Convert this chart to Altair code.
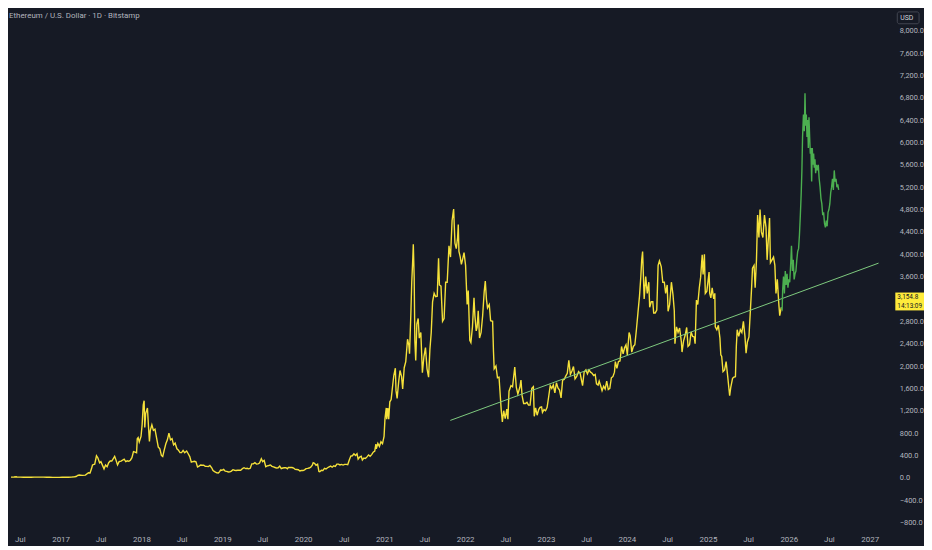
import altair as alt
import pandas as pd

TITLE = "Ethereum / U.S. Dollar · 1D · Bitstamp"
CURRENCY = "USD"
LAST_PRICE = 3154.8
LAST_TIME = "14:13:09"

# Historical daily close (yellow)
history = [
    ("2016-05-22", 13), ("2016-06-05", 14), ("2016-06-15", 19), ("2016-06-19", 12), ("2016-07-03", 12),
    ("2016-07-17", 11), ("2016-07-24", 13), ("2016-08-07", 11), ("2016-08-21", 11), ("2016-09-04", 12),
    ("2016-09-18", 13), ("2016-10-02", 13), ("2016-10-16", 12), ("2016-10-30", 11), ("2016-11-13", 10),
    ("2016-11-27", 8), ("2016-12-11", 8), ("2016-12-25", 7.5),
    ("2017-01-08", 10), ("2017-01-22", 10.7), ("2017-02-05", 11.3), ("2017-02-19", 12.8), ("2017-03-05", 19),
    ("2017-03-12", 24), ("2017-03-19", 42), ("2017-03-26", 50), ("2017-04-09", 43), ("2017-04-23", 48),
    ("2017-05-07", 90), ("2017-05-14", 88), ("2017-05-21", 170), ("2017-05-25", 230), ("2017-06-04", 245),
    ("2017-06-12", 395), ("2017-06-18", 360), ("2017-06-26", 270), ("2017-07-02", 290), ("2017-07-16", 160),
    ("2017-07-23", 230), ("2017-07-30", 200), ("2017-08-06", 270), ("2017-08-13", 300), ("2017-08-20", 300),
    ("2017-08-27", 345), ("2017-09-02", 385), ("2017-09-07", 330), ("2017-09-15", 230), ("2017-09-22", 290),
    ("2017-10-01", 300), ("2017-10-15", 335), ("2017-10-22", 290), ("2017-10-29", 305), ("2017-11-05", 295),
    ("2017-11-12", 315), ("2017-11-19", 360), ("2017-11-26", 470), ("2017-12-03", 460), ("2017-12-10", 450),
    ("2017-12-13", 700), ("2017-12-17", 720), ("2017-12-22", 640), ("2017-12-30", 740),
    ("2018-01-04", 950), ("2018-01-09", 1300), ("2018-01-13", 1380), ("2018-01-16", 900), ("2018-01-20", 1150),
    ("2018-01-28", 1250), ("2018-02-02", 900), ("2018-02-06", 650), ("2018-02-10", 850), ("2018-02-17", 950),
    ("2018-02-24", 850), ("2018-03-03", 870), ("2018-03-10", 720), ("2018-03-18", 550), ("2018-03-25", 520),
    ("2018-04-01", 400), ("2018-04-07", 380), ("2018-04-14", 500), ("2018-04-21", 610), ("2018-04-28", 680),
    ("2018-05-05", 800), ("2018-05-12", 680), ("2018-05-19", 700), ("2018-05-26", 590), ("2018-06-02", 620),
    ("2018-06-10", 520), ("2018-06-16", 500), ("2018-06-24", 450), ("2018-07-01", 450), ("2018-07-08", 490),
    ("2018-07-15", 450), ("2018-07-24", 480), ("2018-07-31", 430), ("2018-08-07", 380), ("2018-08-14", 280),
    ("2018-08-21", 290), ("2018-08-28", 295), ("2018-09-04", 285), ("2018-09-11", 195), ("2018-09-18", 210),
    ("2018-09-25", 230), ("2018-10-02", 225), ("2018-10-09", 225), ("2018-10-16", 205), ("2018-10-23", 205),
    ("2018-10-30", 200), ("2018-11-06", 220), ("2018-11-14", 180), ("2018-11-20", 130), ("2018-11-27", 110),
    ("2018-12-07", 90), ("2018-12-14", 85), ("2018-12-20", 110), ("2018-12-24", 140), ("2018-12-30", 135),
    ("2019-01-07", 150), ("2019-01-14", 120), ("2019-01-21", 115), ("2019-01-28", 105), ("2019-02-04", 107),
    ("2019-02-11", 120), ("2019-02-18", 145), ("2019-02-25", 135), ("2019-03-04", 130), ("2019-03-11", 135),
    ("2019-03-18", 138), ("2019-03-25", 135), ("2019-04-02", 165), ("2019-04-09", 180), ("2019-04-16", 165),
    ("2019-04-23", 170), ("2019-04-30", 160), ("2019-05-07", 170), ("2019-05-14", 250), ("2019-05-21", 250),
    ("2019-05-28", 270), ("2019-06-04", 245), ("2019-06-11", 250), ("2019-06-18", 265), ("2019-06-26", 340),
    ("2019-07-02", 290), ("2019-07-09", 310), ("2019-07-16", 200), ("2019-07-23", 215), ("2019-07-30", 220),
    ("2019-08-06", 230), ("2019-08-13", 205), ("2019-08-20", 195), ("2019-08-27", 185), ("2019-09-03", 175),
    ("2019-09-10", 180), ("2019-09-17", 210), ("2019-09-24", 165), ("2019-10-01", 175), ("2019-10-08", 180),
    ("2019-10-15", 180), ("2019-10-22", 160), ("2019-10-26", 185), ("2019-11-05", 185), ("2019-11-12", 185),
    ("2019-11-19", 175), ("2019-11-26", 150), ("2019-12-03", 148), ("2019-12-10", 145), ("2019-12-17", 122),
    ("2019-12-24", 130), ("2019-12-31", 130),
    ("2020-01-07", 143), ("2020-01-14", 165), ("2020-01-21", 168), ("2020-01-28", 175), ("2020-02-04", 190),
    ("2020-02-11", 225), ("2020-02-15", 270), ("2020-02-21", 258), ("2020-02-28", 225), ("2020-03-06", 245),
    ("2020-03-12", 115), ("2020-03-16", 110), ("2020-03-23", 135), ("2020-03-30", 130), ("2020-04-06", 170),
    ("2020-04-13", 158), ("2020-04-20", 180), ("2020-04-27", 195), ("2020-05-04", 210), ("2020-05-11", 190),
    ("2020-05-18", 215), ("2020-05-25", 205), ("2020-06-01", 245), ("2020-06-08", 245), ("2020-06-15", 230),
    ("2020-06-22", 240), ("2020-06-29", 228), ("2020-07-06", 240), ("2020-07-13", 240), ("2020-07-20", 235),
    ("2020-07-27", 320), ("2020-08-03", 390), ("2020-08-10", 395), ("2020-08-17", 430), ("2020-08-24", 400),
    ("2020-08-31", 430), ("2020-09-05", 335), ("2020-09-12", 370), ("2020-09-19", 385), ("2020-09-24", 320),
    ("2020-10-01", 355), ("2020-10-08", 345), ("2020-10-15", 375), ("2020-10-22", 410), ("2020-10-29", 385),
    ("2020-11-05", 415), ("2020-11-12", 460), ("2020-11-19", 480), ("2020-11-24", 605), ("2020-11-26", 520),
    ("2020-12-03", 615), ("2020-12-10", 560), ("2020-12-17", 645), ("2020-12-24", 610), ("2020-12-31", 740),
    ("2021-01-04", 1050), ("2021-01-10", 1250), ("2021-01-12", 1050), ("2021-01-17", 1250), ("2021-01-21", 1050),
    ("2021-01-26", 1360), ("2021-02-01", 1400), ("2021-02-07", 1620), ("2021-02-13", 1830), ("2021-02-20", 1960),
    ("2021-02-23", 1560), ("2021-02-28", 1420), ("2021-03-07", 1720), ("2021-03-13", 1920), ("2021-03-20", 1810),
    ("2021-03-25", 1590), ("2021-04-01", 1970), ("2021-04-08", 2080), ("2021-04-16", 2480), ("2021-04-22", 2370),
    ("2021-04-25", 2220), ("2021-05-01", 2940), ("2021-05-05", 3500), ("2021-05-10", 3950), ("2021-05-12", 4180),
    ("2021-05-16", 3580), ("2021-05-19", 2450), ("2021-05-23", 2100), ("2021-05-28", 2750), ("2021-06-03", 2850),
    ("2021-06-08", 2500), ("2021-06-15", 2600), ("2021-06-22", 1880), ("2021-06-29", 2170), ("2021-07-06", 2330),
    ("2021-07-13", 1950), ("2021-07-20", 1800), ("2021-07-26", 2300), ("2021-08-01", 2600), ("2021-08-07", 3150),
    ("2021-08-14", 3300), ("2021-08-21", 3240), ("2021-08-28", 3250), ("2021-09-03", 3930), ("2021-09-07", 3450),
    ("2021-09-14", 3430), ("2021-09-21", 2800), ("2021-09-28", 2850), ("2021-10-05", 3500), ("2021-10-12", 3500),
    ("2021-10-20", 4150), ("2021-10-27", 3950), ("2021-11-03", 4600), ("2021-11-10", 4810), ("2021-11-16", 4200),
    ("2021-11-22", 4100), ("2021-11-28", 4300), ("2021-12-01", 4530), ("2021-12-04", 4050), ("2021-12-10", 3950),
    ("2021-12-15", 3820), ("2021-12-20", 3900), ("2021-12-27", 4030),
    ("2022-01-03", 3800), ("2022-01-10", 3100), ("2022-01-15", 3350), ("2022-01-22", 2460), ("2022-01-27", 2420),
    ("2022-02-03", 2700), ("2022-02-10", 3220), ("2022-02-14", 2900), ("2022-02-20", 2630), ("2022-02-24", 2690),
    ("2022-03-01", 2990), ("2022-03-07", 2500), ("2022-03-14", 2600), ("2022-03-21", 2900), ("2022-03-28", 3330),
    ("2022-04-02", 3520), ("2022-04-07", 3200), ("2022-04-12", 3040), ("2022-04-20", 3100), ("2022-04-26", 2810),
    ("2022-05-05", 2800), ("2022-05-09", 2250), ("2022-05-12", 1950), ("2022-05-20", 2000), ("2022-05-27", 1790),
    ("2022-06-03", 1800), ("2022-06-13", 1210), ("2022-06-18", 1000), ("2022-06-24", 1200), ("2022-07-01", 1060),
    ("2022-07-08", 1230), ("2022-07-13", 1050), ("2022-07-18", 1550), ("2022-07-27", 1650), ("2022-08-03", 1630),
    ("2022-08-13", 1980), ("2022-08-20", 1620), ("2022-08-27", 1500), ("2022-09-05", 1620), ("2022-09-10", 1750),
    ("2022-09-15", 1470), ("2022-09-22", 1330), ("2022-09-30", 1330), ("2022-10-07", 1350), ("2022-10-14", 1300),
    ("2022-10-21", 1300), ("2022-10-29", 1600), ("2022-11-05", 1630), ("2022-11-09", 1100), ("2022-11-15", 1250),
    ("2022-11-22", 1120), ("2022-11-29", 1220), ("2022-12-05", 1260), ("2022-12-12", 1270), ("2022-12-16", 1170),
    ("2022-12-23", 1220), ("2022-12-30", 1200),
    ("2023-01-06", 1260), ("2023-01-13", 1450), ("2023-01-20", 1650), ("2023-01-27", 1600), ("2023-02-03", 1660),
    ("2023-02-10", 1520), ("2023-02-17", 1700), ("2023-02-24", 1610), ("2023-03-03", 1570), ("2023-03-10", 1430),
    ("2023-03-17", 1750), ("2023-03-24", 1760), ("2023-03-31", 1820), ("2023-04-07", 1870), ("2023-04-14", 2100),
    ("2023-04-21", 1850), ("2023-04-28", 1910), ("2023-05-05", 1990), ("2023-05-12", 1770), ("2023-05-19", 1810),
    ("2023-05-28", 1900), ("2023-06-04", 1870), ("2023-06-10", 1750), ("2023-06-15", 1650), ("2023-06-22", 1890),
    ("2023-06-30", 1930), ("2023-07-07", 1860), ("2023-07-14", 1930), ("2023-07-21", 1890), ("2023-07-28", 1870),
    ("2023-08-04", 1830), ("2023-08-11", 1850), ("2023-08-17", 1680), ("2023-08-24", 1660), ("2023-08-29", 1730),
    ("2023-09-06", 1630), ("2023-09-11", 1560), ("2023-09-18", 1640), ("2023-09-25", 1590), ("2023-10-02", 1730),
    ("2023-10-09", 1580), ("2023-10-16", 1600), ("2023-10-23", 1790), ("2023-10-30", 1810), ("2023-11-06", 1890),
    ("2023-11-10", 2080), ("2023-11-17", 1960), ("2023-11-24", 2080), ("2023-12-01", 2090), ("2023-12-08", 2350),
    ("2023-12-15", 2220), ("2023-12-22", 2330), ("2023-12-28", 2380),
    ("2024-01-03", 2200), ("2024-01-11", 2600), ("2024-01-16", 2540), ("2024-01-23", 2250), ("2024-01-30", 2350),
    ("2024-02-06", 2380), ("2024-02-13", 2650), ("2024-02-20", 2950), ("2024-02-27", 3250), ("2024-03-04", 3600),
    ("2024-03-08", 3900), ("2024-03-12", 4050), ("2024-03-19", 3200), ("2024-03-26", 3600), ("2024-04-02", 3300),
    ("2024-04-09", 3500), ("2024-04-13", 3050), ("2024-04-20", 3150), ("2024-04-27", 3150), ("2024-05-01", 2950),
    ("2024-05-08", 2950), ("2024-05-15", 3000), ("2024-05-21", 3800), ("2024-05-27", 3880), ("2024-06-04", 3780),
    ("2024-06-11", 3500), ("2024-06-18", 3500), ("2024-06-24", 3300), ("2024-07-01", 3450), ("2024-07-05", 2980),
    ("2024-07-12", 3100), ("2024-07-20", 3500), ("2024-07-27", 3280), ("2024-08-02", 2990), ("2024-08-05", 2400),
    ("2024-08-12", 2700), ("2024-08-19", 2600), ("2024-08-26", 2680), ("2024-09-03", 2430), ("2024-09-06", 2250),
    ("2024-09-13", 2450), ("2024-09-20", 2550), ("2024-09-27", 2690), ("2024-10-03", 2350), ("2024-10-10", 2380),
    ("2024-10-17", 2610), ("2024-10-24", 2530), ("2024-10-31", 2520), ("2024-11-04", 2400), ("2024-11-10", 3180),
    ("2024-11-16", 3100), ("2024-11-23", 3400), ("2024-11-29", 3590), ("2024-12-06", 3990), ("2024-12-10", 3640),
    ("2024-12-16", 4000), ("2024-12-20", 3300), ("2024-12-27", 3340),
    ("2025-01-06", 3680), ("2025-01-09", 3300), ("2025-01-14", 3220), ("2025-01-20", 3400), ("2025-01-27", 3200),
    ("2025-02-01", 3300), ("2025-02-03", 2700), ("2025-02-10", 2650), ("2025-02-17", 2730), ("2025-02-24", 2500),
    ("2025-02-28", 2200), ("2025-03-04", 2170), ("2025-03-10", 1900), ("2025-03-17", 1930), ("2025-03-24", 2080),
    ("2025-03-31", 1820), ("2025-04-06", 1580), ("2025-04-09", 1470), ("2025-04-14", 1620), ("2025-04-22", 1780),
    ("2025-04-28", 1800), ("2025-05-05", 1810), ("2025-05-09", 2350), ("2025-05-13", 2650), ("2025-05-20", 2530),
    ("2025-05-27", 2650), ("2025-06-03", 2600), ("2025-06-10", 2800), ("2025-06-17", 2530), ("2025-06-22", 2230),
    ("2025-06-28", 2430), ("2025-07-05", 2520), ("2025-07-11", 2960), ("2025-07-17", 3400), ("2025-07-21", 3750),
    ("2025-07-28", 3800), ("2025-08-02", 3400), ("2025-08-08", 3900), ("2025-08-13", 4700), ("2025-08-19", 4300),
    ("2025-08-24", 4800), ("2025-08-30", 4400), ("2025-09-06", 4300), ("2025-09-13", 4700), ("2025-09-20", 4480),
    ("2025-09-25", 3900), ("2025-10-01", 4300), ("2025-10-06", 4650), ("2025-10-10", 3850), ("2025-10-17", 3900),
    ("2025-10-24", 3950), ("2025-10-30", 3800), ("2025-11-04", 3300), ("2025-11-10", 3550), ("2025-11-17", 3100),
    ("2025-11-21", 2900), ("2025-11-28", 3050),
]

# Projected path (green)
projection = [
    ("2025-11-28", 3050), ("2025-12-02", 3020), ("2025-12-04", 3350), ("2025-12-08", 3600), ("2025-12-12", 3300),
    ("2025-12-16", 3700), ("2025-12-20", 3450), ("2025-12-24", 3650), ("2025-12-28", 3400), ("2026-01-01", 3550),
    ("2026-01-05", 3500), ("2026-01-09", 3800), ("2026-01-13", 4150), ("2026-01-17", 3700), ("2026-01-21", 3900),
    ("2026-01-25", 3550), ("2026-01-29", 3650), ("2026-02-02", 3700), ("2026-02-06", 3900), ("2026-02-10", 4050),
    ("2026-02-14", 4100), ("2026-02-18", 4350), ("2026-02-22", 4700), ("2026-02-26", 5100), ("2026-03-01", 5500),
    ("2026-03-04", 6100), ("2026-03-08", 6500), ("2026-03-12", 6200), ("2026-03-15", 6880), ("2026-03-18", 6300),
    ("2026-03-21", 6500), ("2026-03-24", 6100), ("2026-03-27", 6400), ("2026-03-30", 5900), ("2026-04-02", 6450),
    ("2026-04-05", 6100), ("2026-04-08", 5800), ("2026-04-11", 5900), ("2026-04-14", 5300), ("2026-04-17", 5900),
    ("2026-04-20", 5600), ("2026-04-23", 5800), ("2026-04-26", 5550), ("2026-04-29", 5700), ("2026-05-02", 5450),
    ("2026-05-06", 5600), ("2026-05-10", 5500), ("2026-05-14", 5600), ("2026-05-18", 5350), ("2026-05-22", 5200),
    ("2026-05-26", 5000), ("2026-05-30", 4900), ("2026-06-03", 4700), ("2026-06-07", 4750), ("2026-06-11", 4550),
    ("2026-06-15", 4480), ("2026-06-19", 4600), ("2026-06-23", 4500), ("2026-06-27", 4750), ("2026-07-01", 4800),
    ("2026-07-05", 4900), ("2026-07-09", 5100), ("2026-07-13", 5200), ("2026-07-17", 5350), ("2026-07-21", 5150),
    ("2026-07-25", 5500), ("2026-07-29", 5300), ("2026-08-02", 5350), ("2026-08-06", 5200), ("2026-08-10", 5250),
    ("2026-08-14", 5150),
]

# Trend line endpoints
trend_dates = ["2021-10-26", "2027-02-10"]
trend_values = [1027, 3841]

# Axis ticks
y_ticks = [-800, -400, 0, 400, 800, 1200, 1600, 2000, 2400, 2800, 3200, 3600, 4000,
           4400, 4800, 5200, 5600, 6000, 6400, 6800, 7200, 7600, 8000]
x_tick_years = [2016, 2017, 2018, 2019, 2020, 2021, 2022, 2023, 2024, 2025, 2026, 2027]

hist_df = pd.DataFrame(history, columns=["date", "value"])
proj_df = pd.DataFrame(projection, columns=["date", "value"])
trend_df = pd.DataFrame({"date": trend_dates, "value": trend_values})

x_values = []
for yr in x_tick_years:
    if yr > 2016:
        x_values.append(alt.DateTime(year=yr, month=1, date=1))
    if yr < 2027:
        x_values.append(alt.DateTime(year=yr, month=7, date=1))

W, H = 884, 520
BG = "#161A25"
TXT = "#B2B5BE"
FONT = "Roboto"

x_enc = alt.X(
    "date:T",
    scale=alt.Scale(domain=[alt.DateTime(year=2016, month=5, date=22),
                            alt.DateTime(year=2027, month=3, date=13)]),
    axis=alt.Axis(
        values=x_values,
        labelExpr="month(datum.value) == 0 ? timeFormat(datum.value, '%Y') : 'Jul'",
        title=None, ticks=False, domain=False, grid=False,
        labelColor=TXT, labelFontSize=8, labelFont=FONT, labelPadding=9,
        labelOverlap=False, labelFlush=False,
    ),
)
Y_SCALE = alt.Scale(domain=[-867, 8336], nice=False, zero=False)
Y_AXIS = alt.Axis(
    orient="right", values=y_ticks, format=",.1f",
    title=None, ticks=False, domain=False, grid=False,
    labelColor=TXT, labelFontSize=7.5, labelFont=FONT, labelPadding=14,
    labelAlign="left", labelOverlap=False, labelFlush=False, labelBound=False,
)
y_enc = alt.Y("value:Q", scale=Y_SCALE, axis=Y_AXIS)

hist_line = alt.Chart(hist_df).mark_line(color="#F5E13A", strokeWidth=1.4).encode(x=x_enc, y=y_enc)
proj_line = alt.Chart(proj_df).mark_line(color="#4CAF50", strokeWidth=1.4).encode(x=x_enc, y=y_enc)
trend_line = alt.Chart(trend_df).mark_line(color="#7FCB7F", strokeWidth=1).encode(x=x_enc, y=y_enc)

title_text = alt.Chart(pd.DataFrame({"t": [TITLE]})).mark_text(
    align="left", baseline="middle", color=TXT, fontSize=8, font=FONT
).encode(x=alt.value(-2), y=alt.value(4), text="t:N")

box_df = pd.DataFrame({"value": [LAST_PRICE + 160], "lo": [LAST_PRICE - 160]})
label_df = pd.DataFrame({"value": [LAST_PRICE], "label": [f"{LAST_PRICE:,.1f}"], "time": [LAST_TIME]})
price_box = alt.Chart(box_df).mark_rect(color="#FFEB3B").encode(
    x=alt.value(W + 10), x2=alt.value(W + 39), y=y_enc, y2="lo:Q"
)
price_txt = alt.Chart(label_df).mark_text(
    align="left", baseline="middle", color="#131722", fontSize=6.5, font=FONT, dy=-4.6
).encode(x=alt.value(W + 12), y=y_enc, text="label:N")
time_txt = alt.Chart(label_df).mark_text(
    align="left", baseline="middle", color="#131722", fontSize=6.5, font=FONT, dy=4.6
).encode(x=alt.value(W + 12), y=y_enc, text="time:N")

usd_df = pd.DataFrame({"c": [CURRENCY]})
usd_box = alt.Chart(usd_df).mark_rect(fill=BG, stroke="#434651", strokeWidth=1, cornerRadius=2).encode(
    x=alt.value(W + 12), x2=alt.value(W + 34), y=alt.value(0), y2=alt.value(12)
)
usd_txt = alt.Chart(usd_df).mark_text(
    align="left", baseline="middle", color="#D1D4DC", fontSize=7, font=FONT
).encode(x=alt.value(W + 15), y=alt.value(6), text="c:N")

chart = alt.layer(
    hist_line, trend_line, proj_line, title_text, price_box, price_txt, time_txt, usd_box, usd_txt
).properties(
    width=W, height=H, padding=0, background=BG
).configure_view(
    stroke=None
).configure_axis(
    labelOverlap=False
)

chart.save("out.html", embed_options={"renderer": "svg", "actions": False})
